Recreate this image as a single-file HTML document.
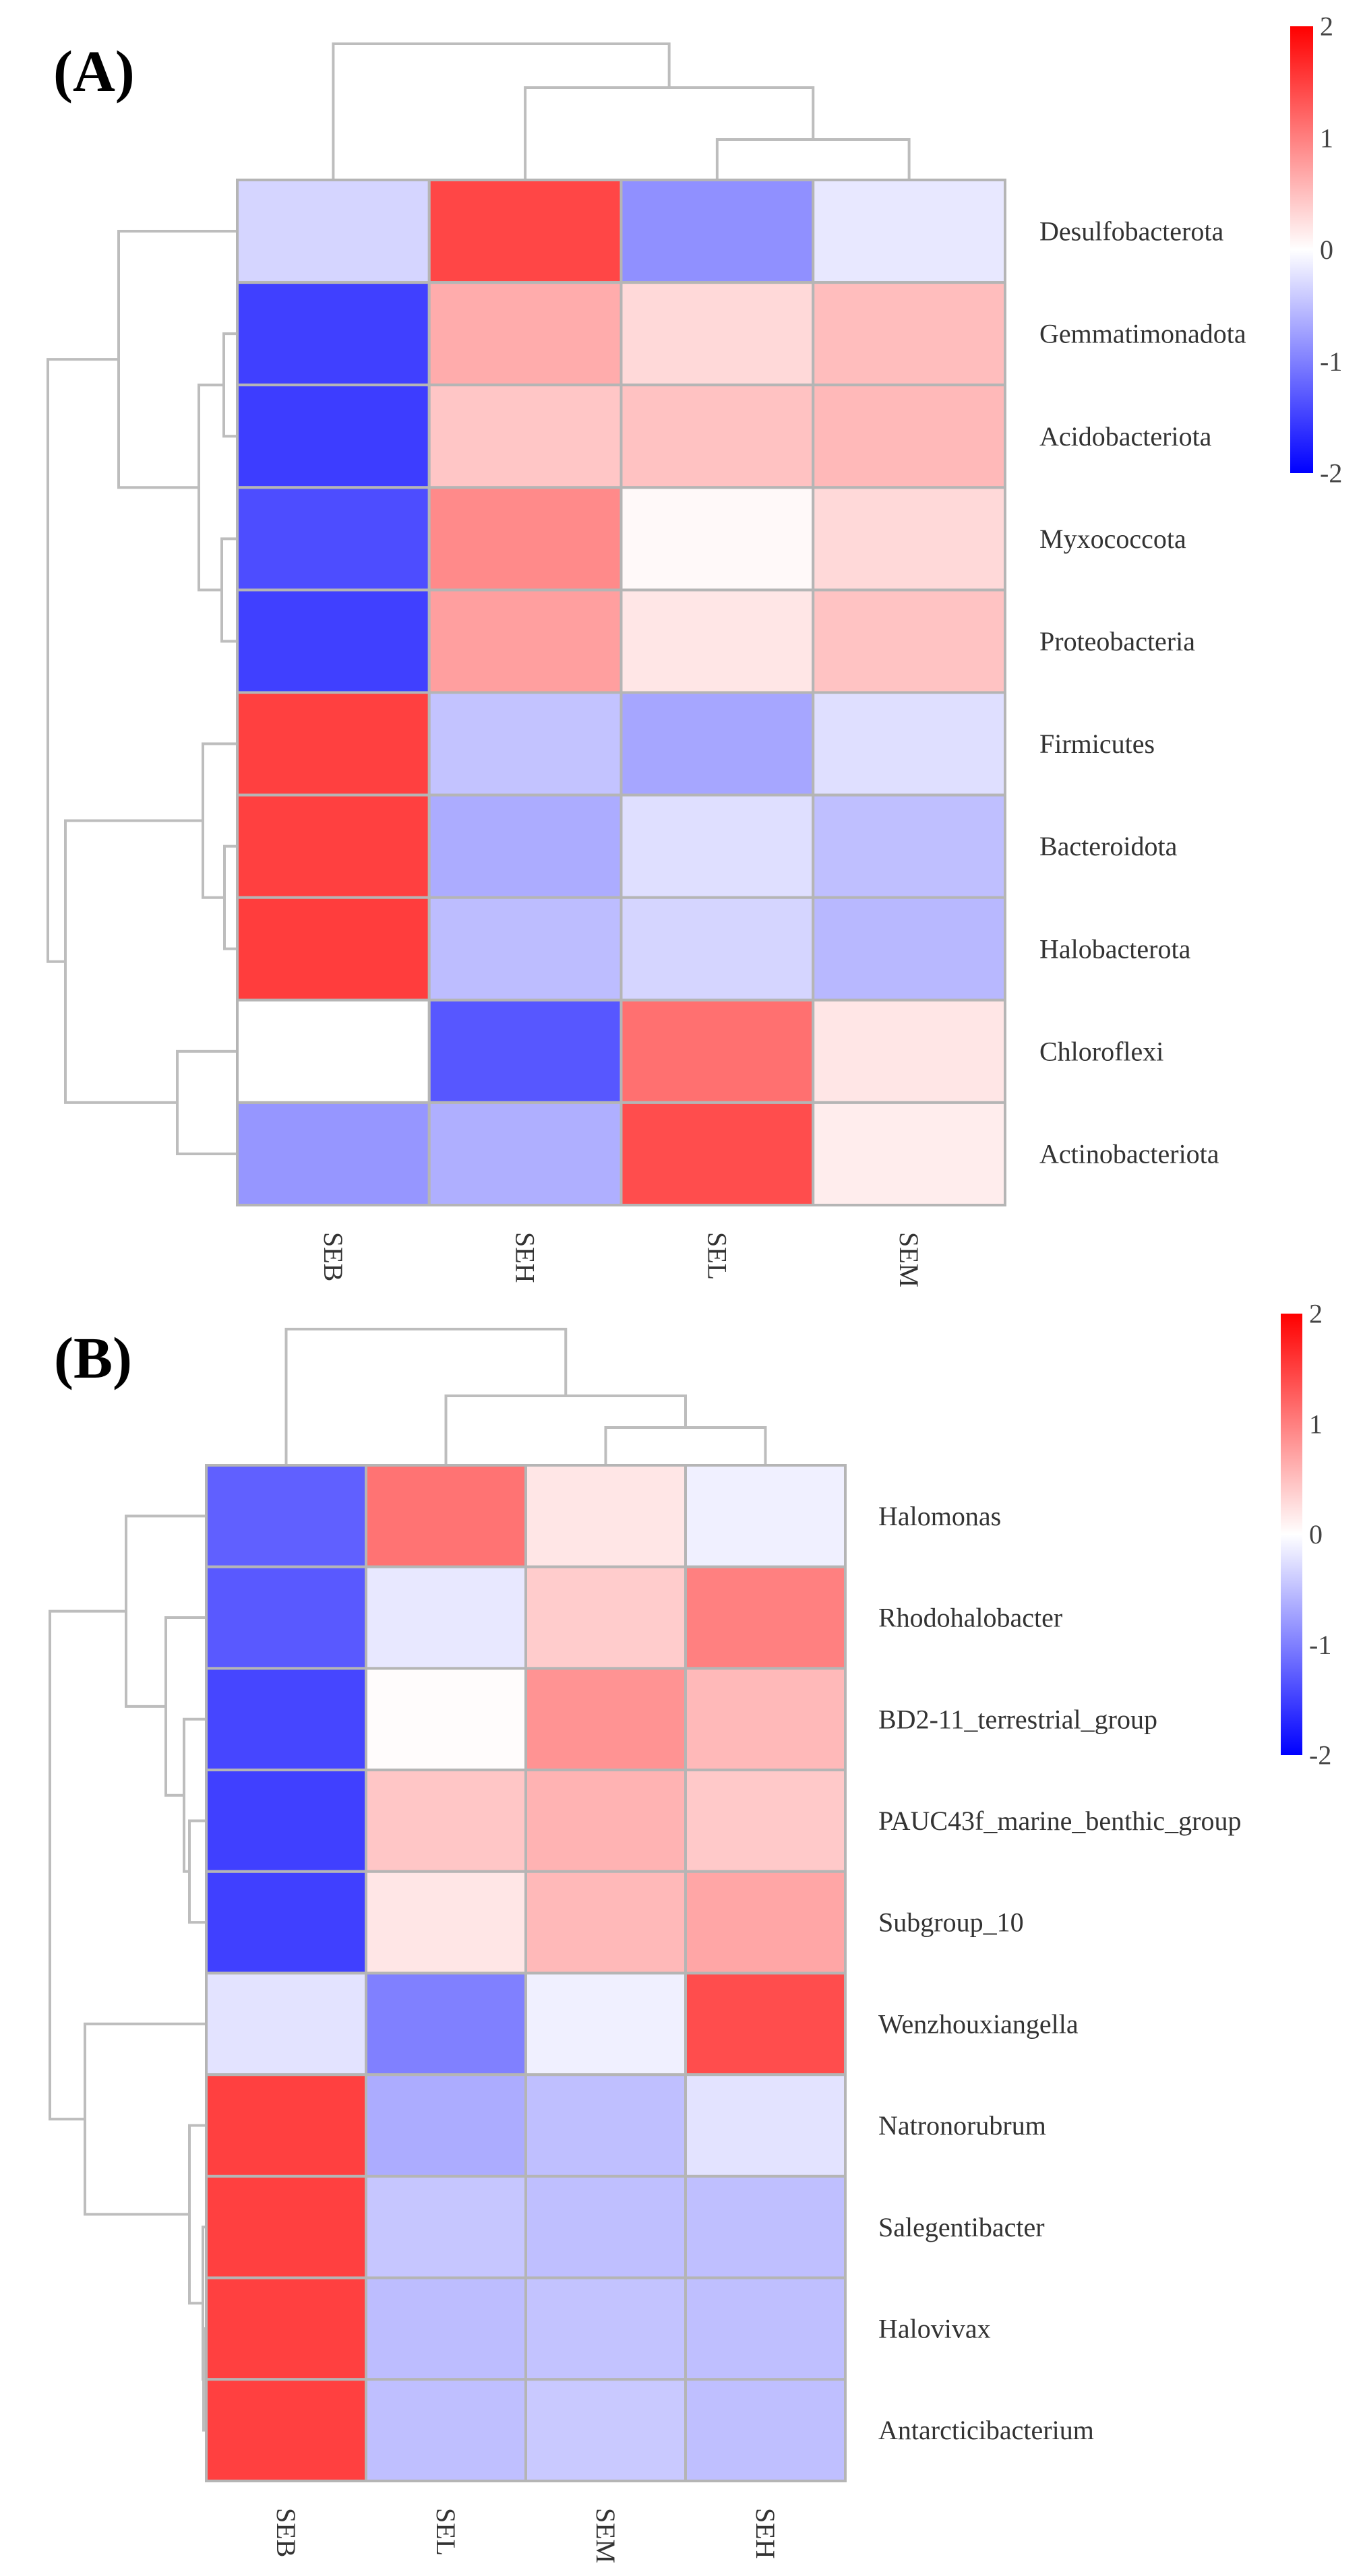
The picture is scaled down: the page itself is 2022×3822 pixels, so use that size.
<!DOCTYPE html>
<html><head><meta charset="utf-8"><style>
html,body{margin:0;padding:0;background:#fff;}
svg{display:block;}
text{font-family:"Liberation Serif","Times New Roman",serif;}
</style></head><body>
<svg id="chart" width="2022" height="3822" viewBox="0 0 2022 3822" xmlns="http://www.w3.org/2000/svg">
<defs>
<linearGradient id="cbgrad" x1="0" y1="1" x2="0" y2="0">
<stop offset="0" stop-color="#0000ff"/><stop offset="0.5" stop-color="#ffffff"/><stop offset="1" stop-color="#ff0000"/>
</linearGradient>
</defs>
</svg>
<script>
// ---- Panel A data ----
const rowsA = ["Desulfobacterota","Gemmatimonadota","Acidobacteriota","Myxococcota","Proteobacteria","Firmicutes","Bacteroidota","Halobacterota","Chloroflexi","Actinobacteriota"];
const colsA = ["SEB","SEH","SEL","SEM"];
const colSEB_A = [-0.33, -1.5, -1.52, -1.4, -1.5, 1.5, 1.5, 1.52, 0.0, -0.82];
const colSEH_A = [1.45, 0.65, 0.45, 0.92, 0.75, -0.47, -0.65, -0.52, -1.32, -0.63];
const colSEL_A = [-0.87, 0.3, 0.48, 0.05, 0.2, -0.7, -0.25, -0.33, 1.12, 1.4];
const colSEM_A = [-0.18, 0.52, 0.55, 0.3, 0.47, -0.25, -0.5, -0.56, 0.2, 0.14];
// ---- Panel B data ----
const rowsB = ["Halomonas","Rhodohalobacter","BD2-11_terrestrial_group","PAUC43f_marine_benthic_group","Subgroup_10","Wenzhouxiangella","Natronorubrum","Salegentibacter","Halovivax","Antarcticibacterium"];
const colsB = ["SEB","SEL","SEM","SEH"];
const colSEB_B = [-1.25, -1.3, -1.45, -1.5, -1.5, -0.22, 1.5, 1.5, 1.5, 1.5];
const colSEL_B = [1.1, -0.18, 0.02, 0.45, 0.2, -1.0, -0.65, -0.45, -0.52, -0.5];
const colSEM_B = [0.2, 0.4, 0.85, 0.6, 0.55, -0.12, -0.5, -0.5, -0.47, -0.42];
const colSEH_B = [-0.12, 1.0, 0.55, 0.42, 0.7, 1.4, -0.22, -0.5, -0.5, -0.5];
const cbTicks = [2, 1, 0, -1, -2];

const svg = document.getElementById('chart');
const NS = 'http://www.w3.org/2000/svg';
function mk(tag, attrs, parent){ const e=document.createElementNS(NS,tag); for(const k in attrs) e.setAttribute(k,attrs[k]); (parent||svg).appendChild(e); return e; }
function color(v){
  const t=Math.max(-2,Math.min(2,v))/2;
  let r,g,b;
  if(t>=0){ r=255; g=Math.round(255*(1-t)); b=g; } else { b=255; r=Math.round(255*(1+t)); g=r; }
  return `rgb(${r},${g},${b})`;
}
const LINE='#bdbdbd';

function panel(cfg){
  const g=mk('g',{});
  
  
  const nR=cfg.rows.length, nC=cfg.cols.length;
  const cw=(cfg.x1-cfg.x0)/nC, rh=(cfg.y1-cfg.y0)/nR;
  const xS=i=>cfg.x0+i*cw, yS=j=>cfg.y0+j*rh;
  // cells
  cfg.values.forEach((colVals,ci)=>{
    colVals.forEach((v,ri)=>{
      const r=mk('rect',{x:xS(ci),y:yS(ri),width:cw,height:rh,fill:color(v),stroke:'#b5b5b5','stroke-width':4},g);
      
      
    });
  });
  // row labels
  cfg.rows.forEach((lab,ri)=>{
    const t=mk('text',{x:cfg.labelX,y:yS(ri)+rh/2,'font-size':40,fill:'#333','dominant-baseline':'central'},g);
    t.textContent=lab;
    
    
  });
  // col labels
  cfg.cols.forEach((lab,ci)=>{
    const cx=xS(ci)+cw/2, ty=cfg.y1+40;
    const t=mk('text',{x:0,y:0,'font-size':40,fill:'#333','dominant-baseline':'central',transform:`translate(${cx},${ty}) rotate(90)`},g);
    t.textContent=lab;
    
    
  });
  // row dendrogram
  const dg=mk('g',{fill:'none',stroke:LINE,'stroke-width':4},g);
  
  
  function rowNode(n){
    if(typeof n==='number') return {y:yS(n)+rh/2,x:cfg.x0-2};
    const a=rowNode(n.c[0]), b=rowNode(n.c[1]);
    mk('path',{d:`M${a.x},${a.y}H${n.x}V${b.y}H${b.x}`},dg);
    return {y:(a.y+b.y)/2,x:n.x};
  }
  rowNode(cfg.rowTree);
  const cg=mk('g',{fill:'none',stroke:LINE,'stroke-width':4},g);
  
  
  function colNode(n){
    if(typeof n==='number') return {x:xS(n)+cw/2,y:cfg.y0-2};
    const a=colNode(n.c[0]), b=colNode(n.c[1]);
    mk('path',{d:`M${a.x},${a.y}V${n.y}H${b.x}V${b.y}`},cg);
    return {x:(a.x+b.x)/2,y:n.y};
  }
  colNode(cfg.colTree);
  // colorbar
  const cb=cfg.cb;
  const r=mk('rect',{x:cb.x,y:cb.y0,width:cb.w,height:cb.y1-cb.y0,fill:'url(#cbgrad)'},g);
  
  
  cbTicks.forEach(v=>{
    const yy=cb.y0+(2-v)/4*(cb.y1-cb.y0);
    const t=mk('text',{x:cb.x+cb.w+10,y:yy,'font-size':40,fill:'#444','dominant-baseline':'central'},g);
    t.textContent=String(v);
    
    
  });
  const tt=mk('text',{x:cfg.title.x,y:cfg.title.y,'font-size':87,'font-weight':'bold',fill:'#000'},g);
  tt.textContent=cfg.title.t;
  
  
}

panel({name:'panel-a-heatmap',rows:rowsA,cols:colsA,values:[colSEB_A,colSEH_A,colSEL_A,colSEM_A],
  x0:352,x1:1491,y0:267,y1:1788,labelX:1542,
  rowTree:{x:71,c:[{x:176,c:[0,{x:295,c:[{x:332,c:[1,2]},{x:329,c:[3,4]}]}]},{x:97,c:[{x:301,c:[5,{x:333,c:[6,7]}]},{x:263,c:[8,9]}]}]},
  colTree:{y:65,c:[0,{y:130,c:[1,{y:207,c:[2,3]}]}]},
  cb:{x:1914,w:34,y0:39,y1:702},title:{x:79,y:135,t:'(A)'}});

panel({name:'panel-b-heatmap',rows:rowsB,cols:colsB,values:[colSEB_B,colSEL_B,colSEM_B,colSEH_B],
  x0:306,x1:1254,y0:2174,y1:3681,labelX:1303,
  rowTree:{x:74,c:[{x:187,c:[0,{x:246,c:[1,{x:273,c:[2,{x:281,c:[3,4]}]}]}]},{x:126,c:[5,{x:281,c:[6,{x:301,c:[7,{x:302,c:[8,9]}]}]}]}]},
  colTree:{y:1972,c:[0,{y:2071,c:[1,{y:2118,c:[2,3]}]}]},
  cb:{x:1900,w:32,y0:1949,y1:2604},title:{x:80,y:2044,t:'(B)'}});
</script>
</body></html>
